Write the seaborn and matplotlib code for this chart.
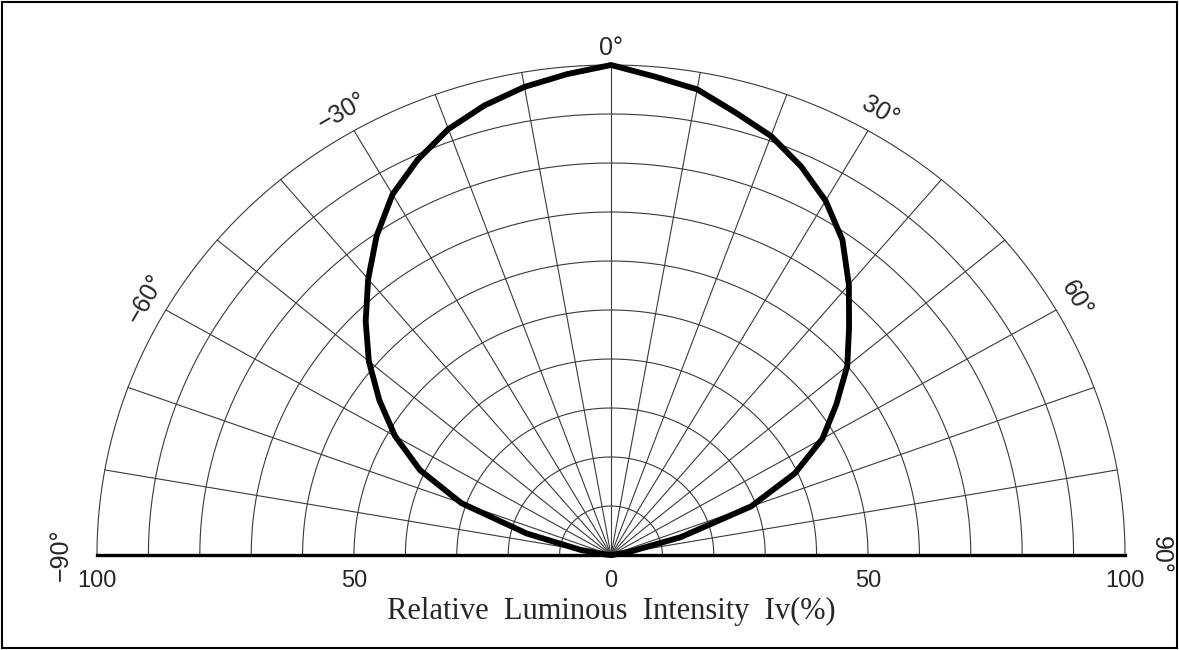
import numpy as np
import pandas as pd
import seaborn as sns
import matplotlib.pyplot as plt
from matplotlib.patches import Rectangle

sns.set_style("white")

# relative luminous intensity (%), every 5 degrees
angles = [-90, -85, -80, -75, -70, -65, -60, -55, -50, -45, -40, -35, -30, -25, -20,
          -15, -10, -5, 0, 5, 10, 15, 20, 25, 30, 35, 40, 45, 50, 55, 60, 65, 70, 75,
          80, 85, 90]
intensity = [0, 1, 6, 17, 31, 41, 48.5, 55, 61.5, 67.5, 73.5, 79.5, 85, 89, 92.5,
             95, 97, 98.5, 100, 98, 96.5, 93.5, 91, 87.5, 83.5, 78.5, 72, 65.5, 60,
             53.5, 47.5, 39.5, 29, 14, 3.5, 0.5, 0]

tick_pos = [-100, -50, 0, 50, 100]
tick_labels = ["100", "50", "0", "50", "100"]
angle_marks = [-90, -60, -30, 0, 30, 60, 90]

th = np.radians(angles)
df = pd.DataFrame({"x": np.array(intensity) * np.sin(th),
                   "y": np.array(intensity) * np.cos(th)})

fig = plt.figure(figsize=(11.79, 6.5), dpi=100)
ax = fig.add_axes([97 / 1179, 95 / 650, 1028 / 1179, 490 / 650])
ax.set_xlim(-100, 100)
ax.set_ylim(0, 100)

# polar grid
grid_c = "#3a3a3a"
t = np.radians(np.linspace(-90, 90, 361))
for r in range(10, 101, 10):
    ax.plot(r * np.sin(t), r * np.cos(t), color=grid_c, lw=0.8, clip_on=False, zorder=1)
for a in range(-80, 81, 10):
    ar = np.radians(a)
    ax.plot([0, 100 * np.sin(ar)], [0, 100 * np.cos(ar)], color=grid_c, lw=0.8,
            clip_on=False, zorder=1)

sns.lineplot(data=df, x="x", y="y", sort=False, estimator=None, color="black",
             lw=4.2, ax=ax, zorder=3, clip_on=False)

# angle labels
for a in angle_marks:
    ar = np.radians(a)
    rr = 103.5 if a == 0 else (107 if abs(a) == 90 else 104.5)
    ax.text(rr * np.sin(ar), rr * np.cos(ar), f"{a}°".replace("-", "\u2212"),
            rotation=-a, ha="center", va="center", fontsize=18,
            family="Liberation Sans", rotation_mode="anchor", clip_on=False)

for s in ["top", "left", "right"]:
    ax.spines[s].set_visible(False)
ax.spines["bottom"].set_linewidth(2.4)
ax.spines["bottom"].set_color("black")
ax.set_yticks([])
ax.set_xticks(tick_pos)
ax.set_xticklabels(tick_labels, fontsize=17, family="Liberation Sans")
ax.tick_params(axis="x", length=0, pad=11)
ax.set_ylabel("")
ax.set_xlabel("Relative  Luminous  Intensity  Iv(%)", fontsize=22,
              family="Liberation Serif", labelpad=3)

fig.patches.append(Rectangle((0.002, 0.003), 0.996, 0.994, transform=fig.transFigure,
                             fill=False, edgecolor="black", lw=1.5))

fig.savefig("out.png", dpi=100, facecolor="white")
